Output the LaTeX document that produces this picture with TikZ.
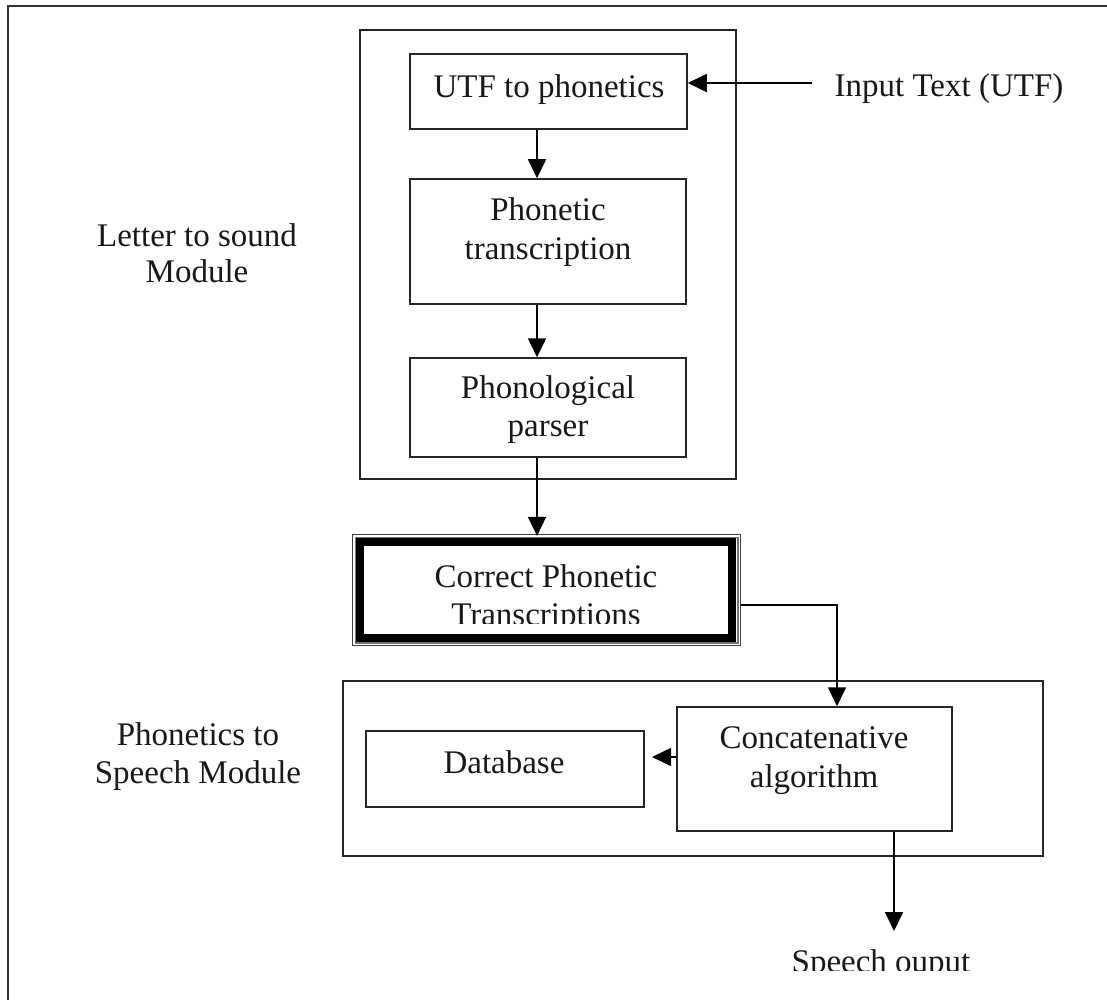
\documentclass[tikz,border=0pt]{standalone}
\usepackage{fontspec}
\setmainfont{Liberation Serif}
\usetikzlibrary{arrows.meta}
\begin{document}
\begin{tikzpicture}[x=1pt,y=-1pt,
  line width=1.5pt,
  color=black!85,
  box/.style={draw=black!85, line width=1.5pt, rectangle, inner sep=0pt},
  txt/.style={font=\fontsize{33}{38}\selectfont, text=black!90, inner sep=0pt, anchor=base},
  arr/.style={-{Triangle[length=19pt,width=18pt]}, line width=1.6pt, draw=black}
]
\useasboundingbox (0,0) rectangle (1107,1000);
\clip (0,0) rectangle (1107,1000);
\fill[white] (0,0) rectangle (1107,1000);

% page frame (continues past the right and bottom edges)
\draw[line width=1.8pt, black!80] (8,1030) -- (8,6) -- (1130,6);

% module frames
\node[box, minimum width=376, minimum height=449] (lts) at (548,254.5) {};
\node[box, minimum width=700, minimum height=175] (pts) at (693,768.5) {};

% letter-to-sound stages
\node[box, minimum width=277, minimum height=75] (utf) at (548.5,91.5) {};
\node[txt] (utfT) at (549,98) {UTF to phonetics};

\node[box, minimum width=276, minimum height=125] (pt) at (548,241.5) {};
\node[txt] (ptA) at (548,221) {Phonetic};
\node[txt] (ptB) at (548,259) {transcription};

\node[box, minimum width=276, minimum height=99] (pp) at (548,407.5) {};
\node[txt] (ppA) at (548,398) {Phonological};
\node[txt] (ppB) at (548,436) {parser};

% correct phonetic transcriptions: thin-thin-thick frame
\node[box, line width=1.2pt, draw=black!75, minimum width=388, minimum height=111] (cp) at (546.5,590) {};
\draw[line width=1.2pt, black!55] ([shift={(3.2,3.2)}]cp.north west) rectangle ([shift={(-3.2,-3.2)}]cp.south east);
\draw[line width=8pt, black, line join=miter] ([shift={(8.5,8)}]cp.north west) rectangle ([shift={(-9,-8)}]cp.south east);
\begin{scope}
  \clip (366,547) rectangle (727,623.5);
  \node[txt] (cpA) at (546,587) {Correct Phonetic};
  \node[txt] (cpB) at (546,625) {Transcriptions};
\end{scope}

% phonetics-to-speech stages
\node[box, minimum width=275, minimum height=124] (ca) at (814.5,769) {};
\node[txt] (caA) at (814,748) {Concatenative};
\node[txt] (caB) at (814,787) {algorithm};

\node[box, minimum width=278, minimum height=76] (db) at (505,769) {};
\node[txt] (dbT) at (504,773) {Database};

% side labels
\node[txt] (ltsA) at (197,247) {Letter to sound};
\node[txt] (ltsB) at (197,282) {Module};
\node[txt] (ptsA) at (198,745) {Phonetics to};
\node[txt] (ptsB) at (198,783) {Speech Module};

\node[txt] (inT) at (949,97) {Input Text (UTF)};
\begin{scope}
  \clip (700,900) rectangle (1100,970.5);
  \node[txt] (outT) at (881,972) {Speech ouput};
\end{scope}

% connectors
\coordinate (inTail) at (812,83);
\coordinate (colA) at (537,0);
\coordinate (turn) at (837,605);
\coordinate (dbIn) at (652,757);
\coordinate (spTip) at (894,931);

\draw[arr] (inTail) -- (inTail -| utf.east);
\draw[arr] (utf.south -| colA) -- (pt.north -| colA);
\draw[arr] (pt.south -| colA) -- (pp.north -| colA);
\draw[arr] (pp.south -| colA) -- ([yshift=-2pt]cp.north -| colA);
\draw[arr] (cp.east |- turn) -- (turn) -- (ca.north -| turn);
\draw[arr] (ca.west |- dbIn) -- (dbIn);
\draw[arr] (ca.south -| spTip) -- (spTip);
\end{tikzpicture}
\end{document}
